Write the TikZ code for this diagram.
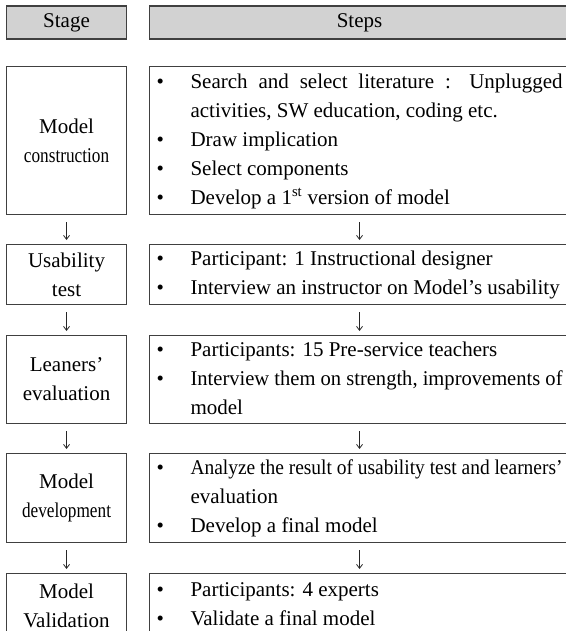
\documentclass[tikz,border=0pt]{standalone}
\usepackage{fontspec}
\setmainfont{Liberation Serif}
\usepackage{graphicx}
\usepackage{array}
\usetikzlibrary{arrows.meta}
\newcommand\bfit[1]{\resizebox{372pt}{\height}{#1}}
\newcommand\jline[1]{\makebox[372pt][s]{#1}}
\newcommand\sqz[1]{\scalebox{0.82}[1]{#1}}
\newcommand\bul{\hspace*{7pt}\textbullet}
\newcommand\rowsfont{\fontsize{21}{29}\selectfont}
\newenvironment{steplist}{\begin{tabular}{@{}p{41pt}@{}p{379pt}@{}}}{\end{tabular}}
\tikzset{
  box/.style={draw=black!75, line width=1.1pt, rectangle, inner sep=0pt, anchor=north west},
  stagebox/.style={box, minimum width=120pt, align=center, font=\rowsfont},
  stepsbox/.style={box, minimum width=420pt, font=\rowsfont},
  headbox/.style={fill=gray!35, minimum height=33pt},
  arr/.style={-{Straight Barb[length=4pt,width=6pt]}, line width=0.8pt, draw=black!85,
              shorten <=7pt, shorten >=4pt},
}
\begin{document}
\begin{tikzpicture}
\useasboundingbox (0,0) rectangle (565pt,-631pt);
% header
\node[stagebox, headbox] (hstage) at (6pt,-5.5pt) {Stage};
\node[stepsbox, headbox] (hsteps) at (149pt,-5.5pt) {Steps};
% row 1
\node[stagebox, minimum height=148pt] (m1) at (6pt,-66pt) {Model\\\sqz{construction}};
\node[stepsbox, minimum height=148pt] (s1) at (149pt,-66pt) {\begin{steplist}
\bul & \jline{Search and select literature : Unplugged}\\
 & activities, SW education, coding etc.\\
\bul & Draw implication\\
\bul & Select components\\
\bul & Develop a 1\textsuperscript{st} version of model
\end{steplist}};
% row 2
\node[stagebox, minimum height=60pt] (m2) at (6pt,-244pt) {Usability\\test};
\node[stepsbox, minimum height=60pt] (s2) at (149pt,-244pt) {\begin{steplist}
\bul & Participant: 1 Instructional designer\\
\bul & Interview an instructor on Model’s usability
\end{steplist}};
% row 3
\node[stagebox, minimum height=88pt] (m3) at (6pt,-335pt) {Leaners’\\evaluation};
\node[stepsbox, minimum height=88pt] (s3) at (149pt,-335pt) {\begin{steplist}
\bul & Participants: 15 Pre-service teachers\\
\bul & \bfit{Interview them on strength, improvements of}\\
 & model
\end{steplist}};
% row 4
\node[stagebox, minimum height=89pt] (m4) at (6pt,-453pt) {Model\\\sqz{development}};
\node[stepsbox, minimum height=89pt] (s4) at (149pt,-453pt) {\begin{steplist}
\bul & \bfit{Analyze the result of usability test and learners’}\\
 & evaluation\\
\bul & Develop a final model
\end{steplist}};
% row 5
\node[stagebox, minimum height=64pt] (m5) at (6pt,-573pt) {Model\\Validation};
\node[stepsbox, minimum height=64pt] (s5) at (149pt,-573pt) {\begin{steplist}
\bul & Participants: 4 experts\\
\bul & Validate a final model
\end{steplist}};
% arrows
\draw[arr] (m1.south) -- (m2.north);
\draw[arr] (m2.south) -- (m3.north);
\draw[arr] (m3.south) -- (m4.north);
\draw[arr] (m4.south) -- (m5.north);
\draw[arr] (s1.south) -- (s2.north);
\draw[arr] (s2.south) -- (s3.north);
\draw[arr] (s3.south) -- (s4.north);
\draw[arr] (s4.south) -- (s5.north);
\end{tikzpicture}
\end{document}
